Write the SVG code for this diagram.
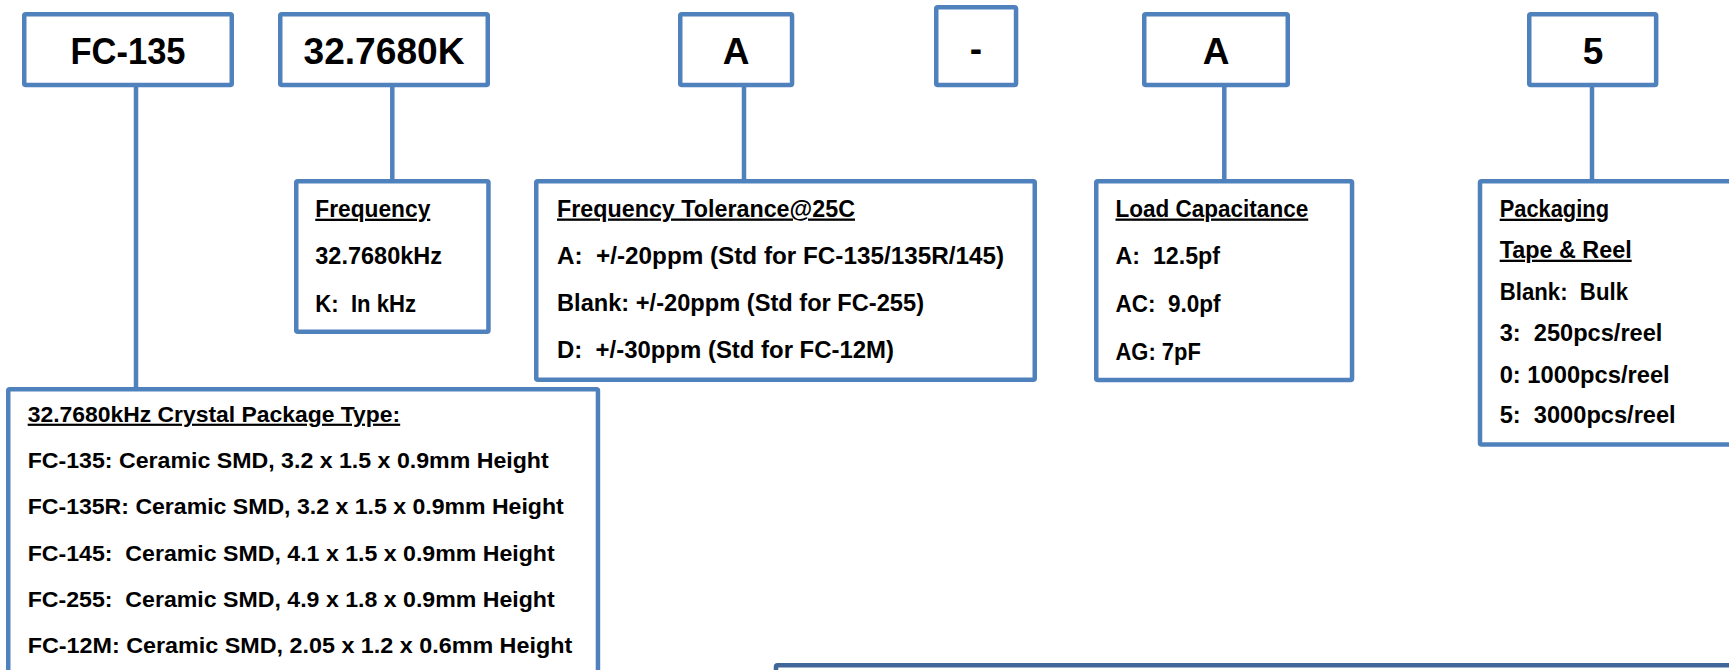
<svg xmlns="http://www.w3.org/2000/svg" width="1729" height="670" viewBox="0 0 1729 670">
<style>
.box{fill:#fff;stroke:#4F81BD;stroke-width:4.5}
.bar{fill:#fff;stroke:#41679A;stroke-width:4.5}
.con{stroke:#4F81BD;stroke-width:4.5;fill:none}
text{font-family:"Liberation Sans",Arial,sans-serif;font-weight:bold;fill:#000;white-space:pre}
.big{font-size:37px;text-anchor:middle}
.t{font-size:23px}
.s{font-size:22px}
.u{text-decoration:underline}
</style>
<rect width="1729" height="670" fill="#fff"/>
<g id="connectors">
<line class="con" x1="136" y1="85" x2="136" y2="389"/>
<line class="con" x1="392.3" y1="85" x2="392.3" y2="181"/>
<line class="con" x1="744" y1="85" x2="744" y2="181"/>
<line class="con" x1="1224.3" y1="85" x2="1224.3" y2="181"/>
<line class="con" x1="1592" y1="85" x2="1592" y2="181"/>
</g>
<g id="n-fc135">
<rect class="box" x="24.25" y="14.25" width="207.5" height="70.8" rx="1.5"/>
<text class="big" x="128" y="64" textLength="115" lengthAdjust="spacingAndGlyphs">FC-135</text>
</g>
<g id="n-freq">
<rect class="box" x="280.25" y="14.25" width="207.5" height="70.8" rx="1.5"/>
<text class="big" x="384" y="64" textLength="161" lengthAdjust="spacingAndGlyphs">32.7680K</text>
</g>
<g id="n-tol">
<rect class="box" x="680.25" y="14.25" width="111.8" height="70.8" rx="1.5"/>
<text class="big" x="736" y="64">A</text>
</g>
<g id="n-dash">
<rect class="box" x="936.25" y="7.25" width="79.8" height="77.8" rx="1.5"/>
<text class="big" x="976" y="61">-</text>
</g>
<g id="n-load">
<rect class="box" x="1144.25" y="14.25" width="143.5" height="70.8" rx="1.5"/>
<text class="big" x="1216" y="64">A</text>
</g>
<g id="n-pack">
<rect class="box" x="1529.25" y="14.25" width="126.9" height="70.8" rx="1.5"/>
<text class="big" x="1593" y="64">5</text>
</g>
<g id="d-frequency">
<rect class="box" x="296.25" y="181.25" width="192.2" height="150.5" rx="1.5"/>
<text class="t u" x="315.3" y="216.7" textLength="115" lengthAdjust="spacingAndGlyphs">Frequency</text>
<text class="t" x="315.3" y="264.3" textLength="126.7" lengthAdjust="spacingAndGlyphs">32.7680kHz</text>
<text class="t" x="315.3" y="312" textLength="100.7" lengthAdjust="spacingAndGlyphs">K:  In kHz</text>
</g>
<g id="d-tolerance">
<rect class="box" x="536.25" y="181.25" width="498.5" height="198.5" rx="1.5"/>
<text class="t u" x="557" y="216.5" textLength="298" lengthAdjust="spacingAndGlyphs">Frequency Tolerance@25C</text>
<text class="t" x="557" y="264" textLength="447" lengthAdjust="spacingAndGlyphs">A:  +/-20ppm (Std for FC-135/135R/145)</text>
<text class="t" x="557" y="311" textLength="367" lengthAdjust="spacingAndGlyphs">Blank: +/-20ppm (Std for FC-255)</text>
<text class="t" x="557" y="358" textLength="337" lengthAdjust="spacingAndGlyphs">D:  +/-30ppm (Std for FC-12M)</text>
</g>
<g id="d-load">
<rect class="box" x="1096.25" y="181.25" width="255.8" height="198.8" rx="1.5"/>
<text class="t u" x="1115.5" y="216.5" textLength="192.7" lengthAdjust="spacingAndGlyphs">Load Capacitance</text>
<text class="t" x="1115.5" y="264" textLength="104.5" lengthAdjust="spacingAndGlyphs">A:  12.5pf</text>
<text class="t" x="1115.5" y="312" textLength="105" lengthAdjust="spacingAndGlyphs">AC:  9.0pf</text>
<text class="t" x="1115.5" y="360" textLength="85.3" lengthAdjust="spacingAndGlyphs">AG: 7pF</text>
</g>
<g id="d-packaging">
<rect class="box" x="1480" y="181.25" width="300" height="263.2" rx="1.5"/>
<text class="t u" x="1499.7" y="216.7" textLength="109.3" lengthAdjust="spacingAndGlyphs">Packaging</text>
<text class="t u" x="1499.7" y="257.7" textLength="132" lengthAdjust="spacingAndGlyphs">Tape &amp; Reel</text>
<text class="t" x="1499.7" y="300" textLength="128.3" lengthAdjust="spacingAndGlyphs">Blank:  Bulk</text>
<text class="t" x="1499.7" y="340.7" textLength="162.7" lengthAdjust="spacingAndGlyphs">3:  250pcs/reel</text>
<text class="t" x="1499.7" y="382.7" textLength="170" lengthAdjust="spacingAndGlyphs">0: 1000pcs/reel</text>
<text class="t" x="1499.7" y="423.3" textLength="176" lengthAdjust="spacingAndGlyphs">5:  3000pcs/reel</text>
</g>
<g id="d-package-type">
<rect class="box" x="8.25" y="389.25" width="589.7" height="300" rx="1.5"/>
<text class="s u" x="27.7" y="421.7" textLength="372.5" lengthAdjust="spacingAndGlyphs">32.7680kHz Crystal Package Type:</text>
<text class="s" x="27.7" y="468.3" textLength="521" lengthAdjust="spacingAndGlyphs">FC-135: Ceramic SMD, 3.2 x 1.5 x 0.9mm Height</text>
<text class="s" x="27.7" y="514.3" textLength="536" lengthAdjust="spacingAndGlyphs">FC-135R: Ceramic SMD, 3.2 x 1.5 x 0.9mm Height</text>
<text class="s" x="27.7" y="560.7" textLength="527" lengthAdjust="spacingAndGlyphs">FC-145:  Ceramic SMD, 4.1 x 1.5 x 0.9mm Height</text>
<text class="s" x="27.7" y="606.7" textLength="527" lengthAdjust="spacingAndGlyphs">FC-255:  Ceramic SMD, 4.9 x 1.8 x 0.9mm Height</text>
<text class="s" x="27.7" y="652.7" textLength="544.5" lengthAdjust="spacingAndGlyphs">FC-12M: Ceramic SMD, 2.05 x 1.2 x 0.6mm Height</text>
</g>
<g id="d-bottom">
<rect class="bar" x="776" y="665.25" width="1000" height="50" rx="1.5"/>
</g>
</svg>
